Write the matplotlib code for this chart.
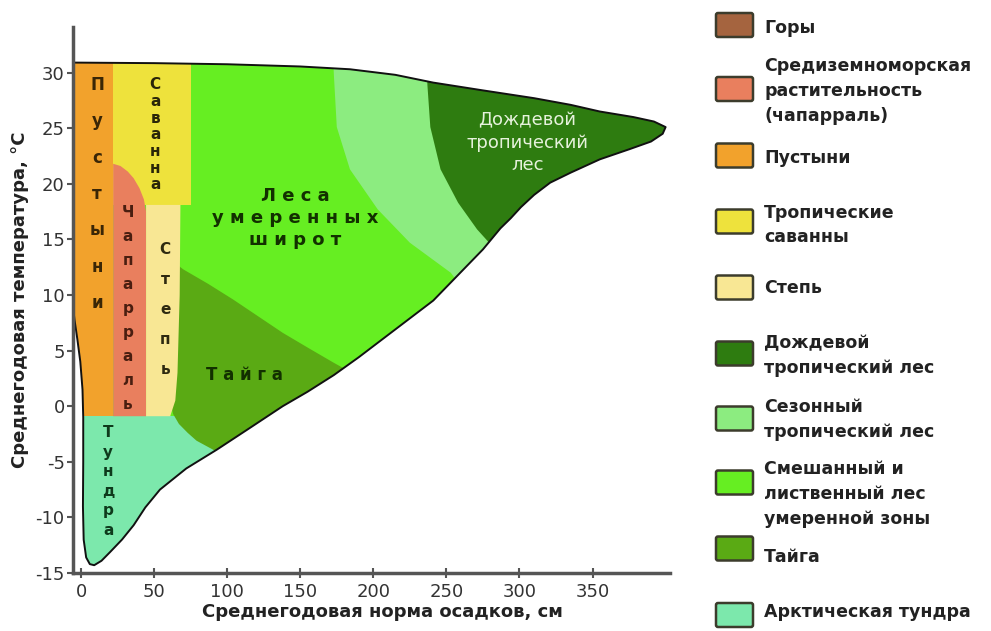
import numpy as np
import matplotlib.pyplot as plt
from matplotlib.patches import Polygon, FancyBboxPatch

plt.rcParams['font.family'] = ['DejaVu Sans']
plt.rcParams['axes.unicode_minus'] = False

# outline of the climate space: annual precipitation (cm) / mean temperature (C)
outline_precip = [-5.5, 50, 100, 150, 184, 215, 241, 275, 310, 335, 355, 378, 392, 400,
                  398, 390, 375, 355, 335, 321, 310, 301, 294, 287, 275, 258, 241, 224,
                  207, 190, 173, 155, 138, 115, 93, 72, 54, 44, 36, 28, 20, 14, 9, 6,
                  3.5, 1.8, 1.3, 1.5, 1.5, 1.0, -0.5, -2.5, -4.5, -5.5]
outline_temp = [30.9, 30.85, 30.75, 30.55, 30.3, 29.8, 29.1, 28.4, 27.7, 27.1, 26.5, 26.0,
                25.6, 25.1, 24.5, 23.8, 23.1, 22.2, 21.0, 20.1, 19.0, 17.9, 16.9, 16.0,
                14.1, 11.8, 9.5, 7.8, 6.1, 4.4, 2.8, 1.3, 0.0, -2.0, -3.9, -5.6, -7.5,
                -9.1, -10.7, -12.0, -13.1, -13.9, -14.3, -14.2, -13.6, -12.0, -9.0, -5.0,
                -1.0, 1.5, 4.0, 6.0, 7.8, 9.0]

# biome boundaries
seasonal_edge_precip = [172, 173, 175, 184, 203, 225, 253, 270]
seasonal_edge_temp = [33, 29.8, 25.1, 21.3, 17.7, 14.7, 12.0, 9.0]
rain_edge_precip = [236, 237, 239, 246, 258, 271, 282, 296]
rain_edge_temp = [33, 28.9, 25.1, 21.3, 18.3, 15.9, 14.3, 11.0]
taiga_top_precip = [60, 63, 70, 87, 104, 121, 138, 156, 173, 195]
taiga_top_temp = [13.4, 13.0, 12.3, 11.0, 9.6, 8.1, 6.6, 5.2, 3.9, 2.3]
taiga_bottom_precip = [110, 93, 86, 79, 73, 67, 63, 61, 60]
taiga_bottom_temp = [-5.5, -4.1, -3.6, -3.1, -2.4, -1.6, -0.7, 0.5, 5.0]
chaparral_precip = [22, 22, 27, 32, 36, 40, 43, 44.5, 44.5]
chaparral_temp = [-0.9, 21.8, 21.6, 21.1, 20.5, 19.6, 18.6, 17.5, -0.9]
steppe_precip = [44.5, 44.5, 68, 67.5, 66, 64.5, 61]
steppe_temp = [-0.9, 18.1, 18.1, 10, 3, 0.5, -0.9]
desert_right = 22
savanna_right = 75
savanna_bottom = 18.1
cold_limit = -0.9

colors = {
    'mountain': '#a5643f', 'chaparral': '#e97f5e', 'desert': '#f2a22c',
    'savanna': '#eee23c', 'steppe': '#f8e794', 'rain': '#2e7c10',
    'seasonal': '#8cec80', 'temperate': '#66ee22', 'taiga': '#5aaa14',
    'tundra': '#7ce8ac',
}

legend_keys = ['mountain', 'chaparral', 'desert', 'savanna', 'steppe',
               'rain', 'seasonal', 'temperate', 'taiga', 'tundra']
legend_labels = ['Горы', 'Средиземноморская\nрастительность\n(чапарраль)', 'Пустыни',
                 'Тропические\nсаванны', 'Степь', 'Дождевой\nтропический лес',
                 'Сезонный\nтропический лес', 'Смешанный и\nлиственный лес\nумеренной зоны',
                 'Тайга', 'Арктическая тундра']

x_ticks = [0, 50, 100, 150, 200, 250, 300, 350]
y_ticks = [-15, -10, -5, 0, 5, 10, 15, 20, 25, 30]

fig = plt.figure(figsize=(9.91, 6.31), dpi=100)
ax = fig.add_axes([73 / 991, 58 / 631, 597 / 991, 546 / 631])
ax.set_xlim(-5.5, 403)
ax.set_ylim(-15, 34.1)

outline = Polygon(np.column_stack([outline_precip, outline_temp]), closed=True,
                  facecolor=colors['temperate'], edgecolor='none', zorder=1)
ax.add_patch(outline)


def region(xs, ys, key):
    p = Polygon(np.column_stack([xs, ys]), closed=True, facecolor=colors[key],
                edgecolor='none', zorder=2)
    ax.add_patch(p)
    p.set_clip_path(outline)


region(seasonal_edge_precip + [420, 420], seasonal_edge_temp + [5, 33], 'seasonal')
region(rain_edge_precip + [420, 420], rain_edge_temp + [5, 33], 'rain')
region([-10, 200, 200, -10], [-20, -20, cold_limit, cold_limit], 'tundra')
region(taiga_top_precip + [200] + taiga_bottom_precip,
       taiga_top_temp + [-8] + taiga_bottom_temp, 'taiga')
region([-10, desert_right, desert_right, -10], [cold_limit, cold_limit, 33, 33], 'desert')
region([desert_right, savanna_right, savanna_right, desert_right],
       [savanna_bottom, savanna_bottom, 33, 33], 'savanna')
region(chaparral_precip, chaparral_temp, 'chaparral')
region(steppe_precip, steppe_temp, 'steppe')

ax.plot(outline_precip + outline_precip[:1], outline_temp + outline_temp[:1],
        color='#111111', lw=1.4, zorder=3, solid_joinstyle='round')


def vertical_word(x, y_top, step, word, color, size=12):
    for i, ch in enumerate(word):
        ax.text(x, y_top - i * step, ch, ha='center', va='center', fontsize=size,
                fontweight='bold', color=color, zorder=4)


vertical_word(11, 28.9, 3.27, 'Пустыни', '#3a2606')
vertical_word(50.7, 28.9, 1.5, 'Саванна', '#2a2608', size=11)
vertical_word(32, 17.4, 2.16, 'Чапарраль', '#4a1e10', size=11)
vertical_word(57.5, 14.1, 2.7, 'Степь', '#2e2a10', size=11)
vertical_word(18.5, -2.4, 1.75, 'Тундра', '#0e3a1c', size=11)

ax.text(146.5, 16.9, 'Л е с а\nу м е р е н н ы х\nш и р о т', ha='center', va='center',
        fontsize=13, fontweight='bold', color='#123000', linespacing=1.3, zorder=4)
ax.text(112, 2.8, 'Т а й г а', ha='center', va='center', fontsize=12,
        fontweight='bold', color='#123000', zorder=4)
ax.text(305.5, 23.7, 'Дождевой\nтропический\nлес', ha='center', va='center',
        fontsize=13, color='#e6f2dc', linespacing=1.3, zorder=4)

for side in ['top', 'right']:
    ax.spines[side].set_visible(False)
for side in ['left', 'bottom']:
    ax.spines[side].set_linewidth(2.5)
    ax.spines[side].set_color('#555555')
    ax.spines[side].set_zorder(5)

ax.set_xticks(x_ticks)
ax.set_yticks(y_ticks)
ax.tick_params(axis='y', direction='out', length=4, width=1.5, color='#555555',
               labelsize=13, labelcolor='#333333', pad=2)
ax.tick_params(axis='x', direction='inout', length=7, width=1.5, color='#555555',
               labelsize=13, labelcolor='#333333', pad=4)

ax.set_xlabel('Среднегодовая норма осадков, см', fontsize=13, fontweight='bold',
              color='#222222')
ax.xaxis.set_label_coords(0.519, -0.055)
ax.set_ylabel('Среднегодовая температура, °C', fontsize=13, fontweight='bold',
              color='#222222')
ax.yaxis.set_label_coords(-0.074, 0.5)

# legend drawn in figure pixels
leg = fig.add_axes([0, 0, 1, 1], zorder=-1)
leg.set_xlim(0, 991)
leg.set_ylim(631, 0)
leg.axis('off')
swatch_y = [25, 89, 155.5, 221.5, 287.5, 353.5, 418.5, 482.5, 548.5, 615]
label_y = [28, 91, 158, 225, 288, 355.5, 419.5, 494, 557, 612]
for key, lab, sy, ty in zip(legend_keys, legend_labels, swatch_y, label_y):
    leg.add_patch(FancyBboxPatch((716, sy - 12), 37, 24,
                                 boxstyle='round,pad=0,rounding_size=2',
                                 facecolor=colors[key], edgecolor='#3c3c2c', lw=1.8))
    leg.text(764, ty, lab, ha='left', va='center', fontsize=12.5, fontweight='bold',
             color='#222222', linespacing=1.5)

fig.savefig('out.png', dpi=100)
